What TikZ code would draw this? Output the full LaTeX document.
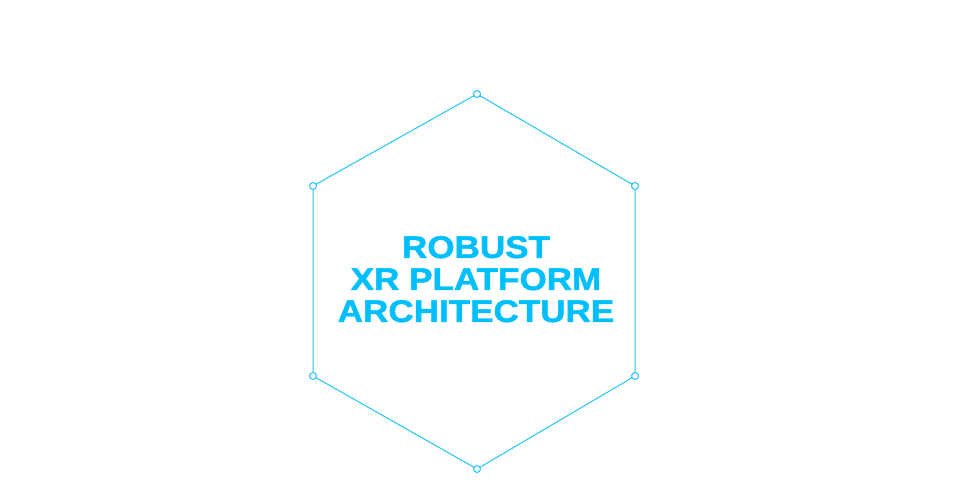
\documentclass[tikz,border=0pt]{standalone}
\usepackage{fontspec}
\newfontfamily\titlefont[FakeStretch=1.12,BoldFeatures={FakeBold=1.5}]{Liberation Sans}
\definecolor{cyanline}{HTML}{22C4F4}
\definecolor{cyantext}{HTML}{00BFFF}
\begin{document}
\begin{tikzpicture}[x=1pt,y=-1pt,
  edge/.style={draw=cyanline,line width=1pt},
  vdot/.style={circle,draw=cyanline,fill=white,line width=1pt,inner sep=0pt,minimum size=7pt}]
\useasboundingbox (0,0) rectangle (959,502);
\coordinate (t) at (477,94);
\coordinate (ur) at (635,186);
\coordinate (lr) at (635,376);
\coordinate (b) at (477,469);
\coordinate (ll) at (313,376);
\coordinate (ul) at (313,186);
\draw[edge] (t) -- (ur) -- (lr) -- (b) -- (ll) -- (ul) -- cycle;
\foreach \p in {t,ur,lr,b,ll,ul} \node[vdot] (v\p) at (\p) {};
\node[text=cyantext,align=center,font=\titlefont\bfseries\fontsize{31.3}{32}\selectfont,anchor=base] (title) at (476,322)
  {ROBUST\\XR PLATFORM\\ARCHITECTURE};
\end{tikzpicture}
\end{document}
